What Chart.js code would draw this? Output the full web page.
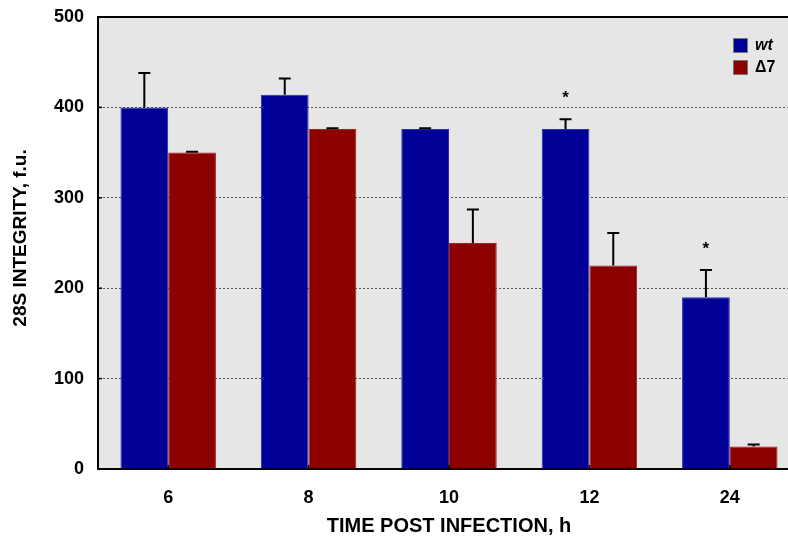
<!DOCTYPE html>
<html>
<head>
<meta charset="utf-8">
<script src="https://cdn.jsdelivr.net/npm/chart.js@4/dist/chart.umd.min.js"></script>
<style>
	html, body { margin: 0; padding: 0; background: #fff; overflow: hidden; }
	canvas { display: block; }
</style>
</head>
<body>
<canvas id="integrity" width="800" height="544"></canvas>
<script>
var hours = ['6', '8', '10', '12', '24'];

var wtValues = [400, 414, 376, 376, 190];
var wtErrors = [38, 18, 1, 11, 30];

var d7Values = [350, 376, 250, 225, 25];
var d7Errors = [1, 1, 37, 36, 2];

// asterisk over the wt bar
var significant = [false, false, false, true, true];

var yTicks = [0, 100, 200, 300, 400, 500];

var fontFamily = '"Liberation Sans", Arial, Helvetica, sans-serif';

var plotBackground = {
	id: 'plotBackground',
	beforeDraw: function(chart) {
		var ctx = chart.ctx;
		var a = chart.chartArea;
		ctx.save();
		ctx.fillStyle = '#e6e6e6';
		ctx.fillRect(a.left, a.top, a.right - a.left, a.bottom - a.top);
		ctx.restore();
	},
	afterDraw: function(chart) {
		var ctx = chart.ctx;
		var a = chart.chartArea;
		ctx.save();
		// top frame line
		ctx.strokeStyle = '#000';
		ctx.lineWidth = 2;
		ctx.beginPath();
		ctx.moveTo(a.left - 1, a.top);
		ctx.lineTo(a.right, a.top);
		ctx.stroke();

		// small inner tick marks
		ctx.lineWidth = 1.5;
		var y = chart.scales.y;
		yTicks.forEach(function(v) {
			var py = y.getPixelForValue(v);
			ctx.beginPath();
			ctx.moveTo(a.left, py);
			ctx.lineTo(a.left + 4, py);
			ctx.stroke();
		});
		var x = chart.scales.x;
		hours.forEach(function(h, i) {
			var px = x.getPixelForValue(i);
			ctx.beginPath();
			ctx.moveTo(px, a.bottom);
			ctx.lineTo(px, a.bottom - 4);
			ctx.stroke();
		});

		// y axis title
		ctx.translate(21, 238);
		ctx.rotate(-Math.PI / 2);
		ctx.fillStyle = '#000';
		ctx.font = 'bold 19px ' + fontFamily;
		ctx.textAlign = 'center';
		ctx.textBaseline = 'middle';
		ctx.fillText('28S INTEGRITY, f.u.', 0, 0);
		ctx.restore();
	}
};

var errorBars = {
	id: 'errorBars',
	afterDatasetsDraw: function(chart) {
		var ctx = chart.ctx;
		var y = chart.scales.y;
		ctx.save();
		ctx.strokeStyle = '#000';
		ctx.fillStyle = '#000';
		ctx.lineWidth = 2;
		chart.data.datasets.forEach(function(ds, d) {
			var meta = chart.getDatasetMeta(d);
			meta.data.forEach(function(bar, i) {
				var top = y.getPixelForValue(ds.data[i] + ds.errors[i]);
				ctx.beginPath();
				ctx.moveTo(bar.x, bar.y);
				ctx.lineTo(bar.x, top);
				ctx.moveTo(bar.x - 6, top);
				ctx.lineTo(bar.x + 6, top);
				ctx.stroke();
				if (ds.stars && ds.stars[i]) {
					ctx.font = 'bold 17px ' + fontFamily;
					ctx.textAlign = 'center';
					ctx.textBaseline = 'middle';
					ctx.fillText('*', bar.x, top - 21);
				}
			});
		});
		ctx.restore();
	}
};

var boxLegend = {
	id: 'boxLegend',
	afterDraw: function(chart) {
		var ctx = chart.ctx;
		ctx.save();
		chart.data.datasets.forEach(function(ds, d) {
			var top = 38 + d * 22;
			ctx.fillStyle = ds.backgroundColor;
			ctx.fillRect(733, top, 15, 15);
			ctx.strokeStyle = '#777';
			ctx.lineWidth = 1;
			ctx.strokeRect(733.5, top + 0.5, 14, 14);
			ctx.fillStyle = '#000';
			ctx.font = (ds.italic ? 'italic ' : '') + 'bold 16px ' + fontFamily;
			ctx.textAlign = 'left';
			ctx.textBaseline = 'middle';
			ctx.fillText(ds.label, 755, top + 8);
		});
		ctx.restore();
	}
};

var config = {
	type: 'bar',
	data: {
		labels: hours,
		datasets: [
			{
				label: 'wt',
				italic: true,
				data: wtValues,
				errors: wtErrors,
				stars: significant,
				backgroundColor: '#000096',
				borderColor: '#2a2ab0',
				borderWidth: 1,
			},
			{
				label: '\u03947',
				data: d7Values,
				errors: d7Errors,
				backgroundColor: '#8c0000',
				borderColor: '#a02020',
				borderWidth: 1,
			}
		]
	},
	options: {
		responsive: false,
		animation: false,
		layout: {
			padding: { top: 17, right: 0, bottom: 0, left: 0 }
		},
		datasets: {
			bar: {
				categoryPercentage: 0.68,
				barPercentage: 1.0,
			}
		},
		scales: {
			x: {
				grid: { display: false, drawTicks: false },
				border: { color: '#000', width: 2 },
				ticks: {
					color: '#000',
					padding: 18,
					font: { family: fontFamily, size: 18, weight: 'bold' }
				},
				title: {
					display: true,
					text: 'TIME POST INFECTION, h',
					color: '#000',
					padding: { top: 0, bottom: 6 },
					font: { family: fontFamily, size: 20, weight: 'bold' }
				},
				afterFit: function(scale) { scale.height = 75; }
			},
			y: {
				min: 0,
				max: 500,
				afterBuildTicks: function(scale) {
					scale.ticks = yTicks.map(function(v) { return { value: v }; });
				},
				grid: {
					drawTicks: false,
					color: function(c) {
						return (c.tick && (c.tick.value === 0 || c.tick.value === 500)) ? 'rgba(0,0,0,0)' : '#555';
					},
					lineWidth: 1,
				},
				border: { color: '#000', width: 2, dash: [2, 2] },
				ticks: {
					color: '#000',
					padding: 14,
					font: { family: fontFamily, size: 18, weight: 'bold' }
				},
				afterFit: function(scale) {
					scale.width = 98;
					scale.paddingTop = 0;
					scale.paddingBottom = 0;
				}
			}
		},
		plugins: {
			legend: { display: false },
			tooltip: { enabled: false }
		}
	},
	plugins: [plotBackground, errorBars, boxLegend]
};

var myChart = new Chart(document.getElementById('integrity'), config);
</script>
</body>
</html>
